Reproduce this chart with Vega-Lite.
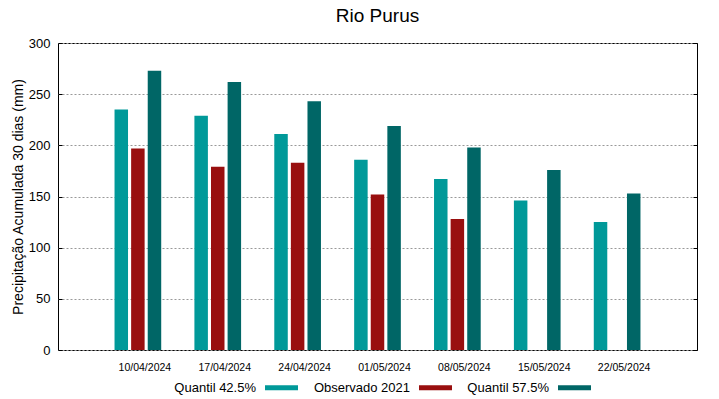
{
  "$schema": "https://vega.github.io/schema/vega-lite/v6.json",
  "width": 639,
  "height": 307,
  "autosize": "none",
  "padding": {"left": 58, "top": 43, "right": 22, "bottom": 49},
  "background": "white",
  "title": {"text": "Rio Purus", "fontSize": 19, "font": "Liberation Sans", "fontWeight": "normal", "anchor": "middle", "offset": 11, "color": "black"},
  "config": {
    "view": {"stroke": "black", "strokeWidth": 1},
    "font": "Liberation Sans"
  },
  "data": {"values": [
    {"date": "10/04/2024", "series": "Quantil 42.5%", "value": 235},
    {"date": "10/04/2024", "series": "Observado 2021", "value": 197},
    {"date": "10/04/2024", "series": "Quantil 57.5%", "value": 273},
    {"date": "17/04/2024", "series": "Quantil 42.5%", "value": 229},
    {"date": "17/04/2024", "series": "Observado 2021", "value": 179},
    {"date": "17/04/2024", "series": "Quantil 57.5%", "value": 262},
    {"date": "24/04/2024", "series": "Quantil 42.5%", "value": 211},
    {"date": "24/04/2024", "series": "Observado 2021", "value": 183},
    {"date": "24/04/2024", "series": "Quantil 57.5%", "value": 243},
    {"date": "01/05/2024", "series": "Quantil 42.5%", "value": 186},
    {"date": "01/05/2024", "series": "Observado 2021", "value": 152},
    {"date": "01/05/2024", "series": "Quantil 57.5%", "value": 219},
    {"date": "08/05/2024", "series": "Quantil 42.5%", "value": 167},
    {"date": "08/05/2024", "series": "Observado 2021", "value": 128},
    {"date": "08/05/2024", "series": "Quantil 57.5%", "value": 198},
    {"date": "15/05/2024", "series": "Quantil 42.5%", "value": 146},
    {"date": "15/05/2024", "series": "Quantil 57.5%", "value": 176},
    {"date": "22/05/2024", "series": "Quantil 42.5%", "value": 125},
    {"date": "22/05/2024", "series": "Quantil 57.5%", "value": 153}
  ]},
  "encoding": {
    "x": {
      "field": "date", "type": "nominal", "sort": null,
      "scale": {"paddingInner": 0, "paddingOuter": 0.5},
      "axis": {"title": null, "labelAngle": 0, "labelFontSize": 10.5, "labelColor": "black", "ticks": false, "domain": false, "labelPadding": 12, "labelOffset": 7, "labelFont": "Liberation Sans"}
    }
  },
  "layer": [
    {
      "mark": {"type": "bar"},
      "encoding": {
        "xOffset": {
          "field": "series", "type": "nominal",
          "scale": {"domain": ["Quantil 42.5%", "Observado 2021", "Quantil 57.5%"], "paddingInner": 0.1875, "paddingOuter": 1.09375}
        },
        "y": {
          "field": "value", "type": "quantitative",
          "scale": {"domain": [0, 300], "nice": false},
          "axis": {"title": "Precipitação Acumulada 30 dias (mm)", "titleFontSize": 14, "titleFontWeight": "normal", "titleColor": "black", "titlePadding": 3, "values": [0, 50, 100, 150, 200, 250, 300], "labelFontSize": 13, "labelColor": "black", "labelPadding": 12, "ticks": true, "tickSize": -4, "tickColor": "black", "domain": false, "grid": true, "gridColor": "#999999", "gridDash": [2, 2], "gridWidth": 1}
        },
        "color": {
          "field": "series", "type": "nominal",
          "scale": {"domain": ["Quantil 42.5%", "Observado 2021", "Quantil 57.5%"], "range": ["#009999", "#990f0f", "#006666"]},
          "legend": {"orient": "none", "legendX": 207, "legendY": 328, "direction": "horizontal", "title": null, "symbolType": "M-1,-0.15H1V0.15H-1Z", "symbolSize": 1089, "symbolStrokeWidth": 0, "symbolOpacity": 1, "labelAlign": "right", "labelOffset": -42, "labelFontSize": 13, "labelColor": "black", "columnPadding": 15, "labelLimit": 200}
        }
      }
    },
    {
      "mark": {"type": "tick", "opacity": 0},
      "encoding": {
        "y": {
          "field": "value", "type": "quantitative",
          "scale": {"domain": [0, 300], "nice": false},
          "axis": {"orient": "right", "title": null, "labels": false, "values": [0, 50, 100, 150, 200, 250, 300], "ticks": true, "tickSize": -4, "tickColor": "black", "domain": false, "grid": false}
        }
      }
    }
  ],
  "resolve": {"axis": {"y": "independent"}}
}
